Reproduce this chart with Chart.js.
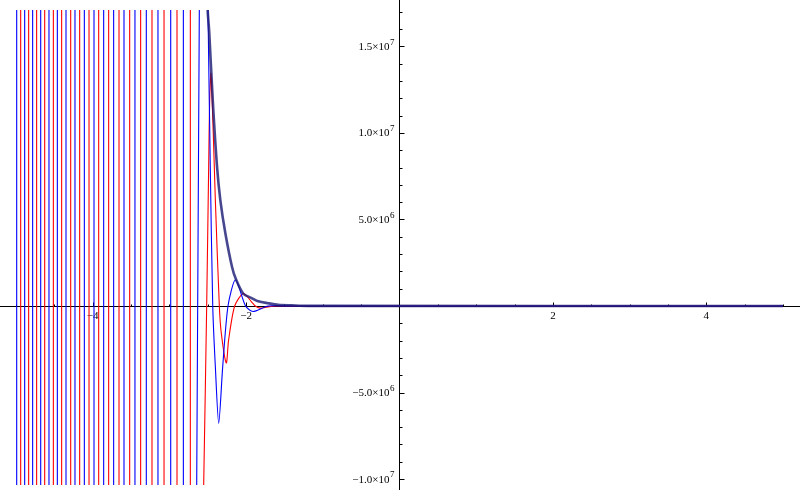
<!DOCTYPE html>
<html>
<head>
<meta charset="utf-8">
<script src="https://cdn.jsdelivr.net/npm/chart.js@4.4.1/dist/chart.umd.min.js"></script>
<style>
  html, body { margin: 0; padding: 0; background: #fff; }
  #wrap { width: 800px; height: 495px; }
</style>
</head>
<body>
<div id="wrap"><canvas id="plot" width="800" height="495"></canvas></div>
<script>
// plot range (y in raw units)
const X_MIN = -5, X_MAX = 5;
const Y_MIN = -10.34e6, Y_MAX = 17.1e6;
const M = 1e6;          // curve values below are in millions
const OFF = 30;         // the dense part runs off both edges (millions)

// zero crossings of the fast oscillating part, left of x = -2.7
const blueCross = [-4.991, -4.887, -4.783, -4.678, -4.570, -4.461, -4.348, -4.231, -4.109,
  -3.983, -3.857, -3.727, -3.592, -3.449, -3.301, -3.149, -2.983, -2.818];
const redCross = [-4.939, -4.835, -4.731, -4.626, -4.513, -4.405, -4.287, -4.170, -4.048,
  -3.922, -3.792, -3.657, -3.518, -3.375, -3.227, -3.070, -2.901, -2.727];

// resolved part of each curve [x, y in millions]
const blueCurve = [[-2.648, -13], [-2.644, -10.34], [-2.610, 17.1], [-2.606, 19.5], [-2.555, 26],
  [-2.502, 19.5], [-2.497, 17.1], [-2.467, 8.05], [-2.435, 0], [-2.401, -3.5], [-2.357, -6.78],
  [-2.305, -3.5], [-2.236, 0], [-2.138, 1.52], [-2.007, 0], [-1.910, -0.32], [-1.714, 0],
  [-1.4, 0], [5, 0]];
const redCurve = [[-2.565, -13], [-2.553, -10.34], [-2.514, 0], [-2.488, 8.05], [-2.475, 11.9],
  [-2.458, 13.44], [-2.428, 9.98], [-2.401, 6.12], [-2.349, 0], [-2.323, -1.58], [-2.258, -3.29],
  [-2.228, -1.96], [-2.149, 0], [-2.036, 0.72], [-1.927, 0.23], [-1.88, 0], [-1.819, -0.12],
  [-1.70, -0.04], [-1.62, 0], [-1.4, 0], [5, 0]];
const absCurve = [[-2.508, 19], [-2.501, 17.1], [-2.480, 15.77], [-2.435, 11.9], [-2.379, 8.05],
  [-2.336, 6.12], [-2.271, 4.22], [-2.184, 2.27], [-2.132, 1.54], [-2.036, 0.71], [-1.927, 0.46],
  [-1.841, 0.27], [-1.711, 0.16], [-1.580, 0.075], [-1.405, 0.04], [-1.2, 0.01], [5, 0]];

// ticks
const xMajor = [-4, -2, 2, 4];
const xLabels = ['\u22124', '\u22122', '2', '4'];
const xMinor = [-5, -4.5, -4, -3.5, -3, -2.5, -2, -1.5, -1, -0.5, 0.5, 1, 1.5, 2, 2.5, 3, 3.5, 4, 4.5, 5];
const yMajor = [-10, -5, 5, 10, 15];
const yMantissa = ['\u22121.0', '\u22125.0', '5.0', '1.0', '1.5'];
const yExponent = ['7', '6', '6', '7', '7'];
const yMinor = [-10, -9, -8, -7, -6, -5, -4, -3, -2, -1, 1, 2, 3, 4, 5, 6, 7, 8, 9, 10,
  11, 12, 13, 14, 15, 16, 17];

// crossings -> vertical strokes; the pieces between them lie outside the range
function dense(xs) {
  const pts = [];
  xs.forEach((x, i) => {
    const s = i % 2 === 0 ? 1 : -1;
    pts.push({x: x, y: -s * OFF * M}, {x: x, y: s * OFF * M});
  });
  return pts;
}
const pts = arr => arr.map(p => ({x: p[0], y: p[1] * M}));

const FONT = '"Liberation Serif", "Times New Roman", serif';

const axesPlugin = {
  id: 'mmaAxes',
  beforeDatasetsDraw(chart) {
    const {ctx, scales: {x, y}} = chart;
    const x0 = Math.floor(x.getPixelForValue(0)) + 0.5;
    const y0 = Math.floor(y.getPixelForValue(0)) + 0.5;
    ctx.save();
    ctx.strokeStyle = '#000';
    ctx.lineWidth = 1;
    ctx.beginPath();
    ctx.moveTo(0, y0); ctx.lineTo(chart.width, y0);
    ctx.moveTo(x0, 0); ctx.lineTo(x0, 490);
    xMinor.forEach(v => {
      const px = Math.round(x.getPixelForValue(v)) + 0.5;
      const len = xMajor.includes(v) ? 4 : 2;
      ctx.moveTo(px, y0); ctx.lineTo(px, y0 - len);
    });
    yMinor.forEach(v => {
      const py = Math.round(y.getPixelForValue(v * M)) + 0.5;
      const len = yMajor.includes(v) ? 5 : 3;
      ctx.moveTo(x0, py); ctx.lineTo(x0 + len, py);
    });
    ctx.stroke();

    ctx.fillStyle = '#000';
    ctx.font = '11px ' + FONT;
    ctx.textAlign = 'center';
    ctx.textBaseline = 'middle';
    xMajor.forEach((v, i) => {
      ctx.fillText(xLabels[i], x.getPixelForValue(v), y0 + 10);
    });

    ctx.textAlign = 'right';
    const right = x0 - 5;
    yMajor.forEach((v, i) => {
      const py = y.getPixelForValue(v * M);
      ctx.font = '9px ' + FONT;
      const ew = ctx.measureText(yExponent[i]).width;
      ctx.fillText(yExponent[i], right, py - 4);
      ctx.font = '11px ' + FONT;
      ctx.fillText(yMantissa[i] + '\u00d710', right - ew - 0.5, py + 0.5);
    });
    ctx.restore();
  }
};

// first dataset is drawn on top
new Chart(document.getElementById('plot'), {
  type: 'line',
  data: {
    datasets: [
      {label: 'abs', data: pts(absCurve), borderColor: 'rgba(25,25,115,0.8)', borderWidth: 2.6, tension: 0.3},
      {label: 'blue', data: pts(blueCurve), borderColor: '#0000ff', borderWidth: 1.1, tension: 0.25},
      {label: 'red', data: pts(redCurve), borderColor: '#ff0000', borderWidth: 1.1, tension: 0.25},
      {label: 'blue dense', data: dense(blueCross), borderColor: '#0000ff', borderWidth: 1.1, tension: 0},
      {label: 'red dense', data: dense(redCross), borderColor: '#ff0000', borderWidth: 1.1, tension: 0}
    ]
  },
  options: {
    responsive: false,
    animation: false,
    devicePixelRatio: 1,
    layout: {padding: {left: 16, right: 17, top: 10, bottom: 10}},
    elements: {point: {radius: 0, hoverRadius: 0}},
    plugins: {legend: {display: false}, tooltip: {enabled: false}},
    events: [],
    scales: {
      x: {type: 'linear', min: X_MIN, max: X_MAX, display: false},
      y: {type: 'linear', min: Y_MIN, max: Y_MAX, display: false}
    }
  },
  plugins: [axesPlugin]
});
</script>
</body>
</html>
